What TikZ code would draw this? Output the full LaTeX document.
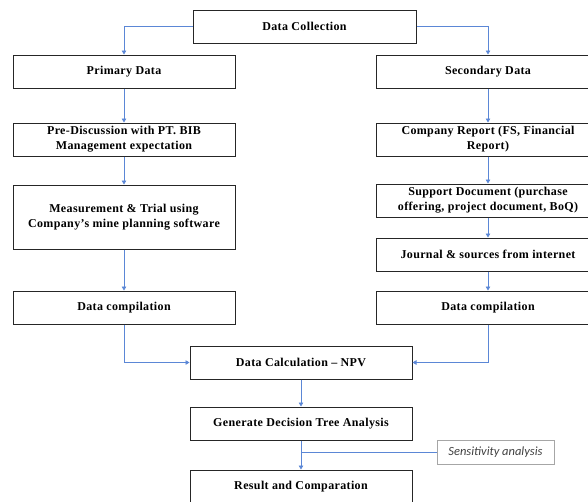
\documentclass[tikz,border=0pt]{standalone}
\usepackage{fontspec}
\setmainfont{Liberation Serif}[LetterSpace=3]
\newfontfamily\calibrifont{Carlito}
\usetikzlibrary{arrows.meta}
\definecolor{flowblue}{HTML}{5B87D6}
\definecolor{sensgray}{HTML}{A6A6A6}

\begin{document}
\begin{tikzpicture}[x=1pt, y=-1pt]

  % Set up styles for the boxes and connectors
  \tikzset{
      box/.style={draw=black!85, line width=1pt, fill=white, minimum width=222pt, minimum height=33pt,
                  align=center, font=\fontsize{12}{15}\selectfont\bfseries, inner sep=1pt},
      tallbox/.style={box, minimum height=64pt},
      sensbox/.style={draw=sensgray, line width=0.6pt, minimum width=117pt, minimum height=24pt,
                      font=\calibrifont\fontsize{12.5}{14}\selectfont\itshape, text=black!75, inner sep=1pt},
      flow/.style={draw=flowblue, line width=0.7pt, -{Triangle[length=4pt, width=4.5pt]}},
      plainflow/.style={draw=flowblue, line width=0.7pt}
  }

  \path[use as bounding box, clip] (0,0) rectangle (588,501);
  \fill[white] (0,0) rectangle (588,501);

  \node[box, minimum width=223pt] (collect) at (304.5, 26.5) {Data Collection};

  % left column
  \node[box] (primary) at (124, 71.5) {Primary Data};
  \node[box] (prediscuss) at (124, 139.5) {Pre-Discussion with PT. BIB\\Management expectation};
  \node[tallbox] (measure) at (124, 217) {Measurement \& Trial using\\Company's mine planning software};
  \node[box] (compileL) at (124, 307.5) {Data compilation};

  % right column
  \node[box, minimum width=224pt] (secondary) at (488, 71.5) {Secondary Data};
  \node[box, minimum width=224pt] (report) at (488, 139.5) {Company Report (FS, Financial\\Report)};
  \node[box, minimum width=224pt] (support) at (488, 200.5) {Support Document (purchase\\offering, project document, BoQ)};
  \node[box, minimum width=224pt] (journal) at (488, 254.5) {Journal \& sources from internet};
  \node[box, minimum width=224pt] (compileR) at (488, 307.5) {Data compilation};

  % center column
  \node[box] (calc) at (301, 362.5) {Data Calculation -- NPV};
  \node[box] (decision) at (301, 423.5) {Generate Decision Tree Analysis};
  \node[box] (result) at (301, 486.5) {Result and Comparation};
  \node[sensbox] (sens) at (495.5, 452) {Sensitivity analysis};

  % connectors
  \draw[flow] (collect.west) -| (primary.north);
  \draw[flow] (collect.east) -| (secondary.north);
  \draw[flow] (primary) -- (prediscuss);
  \draw[flow] (prediscuss) -- (measure);
  \draw[flow] (measure) -- (compileL);
  \draw[flow] (secondary) -- (report);
  \draw[flow] (report) -- (support);
  \draw[flow] (support) -- (journal);
  \draw[flow] (journal) -- (compileR);
  \draw[flow] (compileL.south) |- (calc.west);
  \draw[flow] (compileR.south) |- (calc.east);
  \draw[flow] (calc) -- (decision);
  \draw[flow] (decision) -- (result);
  \coordinate (senstap) at (decision.south |- sens.west);
  \draw[plainflow] (sens.west) -- (senstap);

\end{tikzpicture}
\end{document}
